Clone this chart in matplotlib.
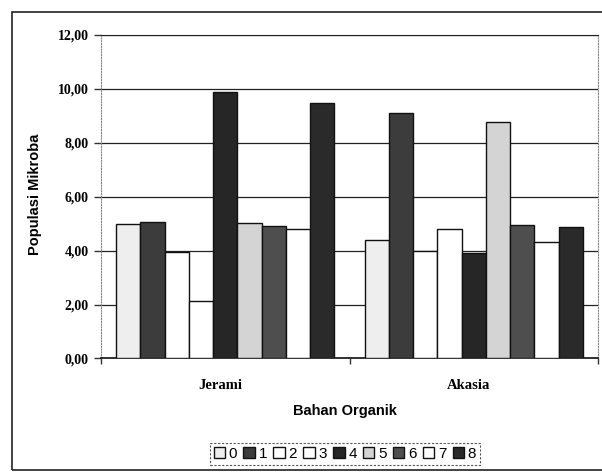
import matplotlib.pyplot as plt
import matplotlib.patches as mpatches
import numpy as np

# Populasi mikroba per bahan organik, seri 0-8
kategori = ["Jerami", "Akasia"]
seri = ["0", "1", "2", "3", "4", "5", "6", "7", "8"]
jerami = [4.98, 5.05, 3.94, 2.13, 9.89, 5.02, 4.91, 4.80, 9.48]
akasia = [4.40, 9.10, 3.99, 4.80, 3.92, 8.78, 4.94, 4.31, 4.89]
yticks = [0, 2, 4, 6, 8, 10, 12]

warna = ["#eeeeee", "#3c3c3c", "#ffffff", "#ffffff", "#262626",
         "#d4d4d4", "#4e4e4e", "#ffffff", "#2a2a2a"]

fig = plt.figure(figsize=(6.02, 4.75), dpi=100)
ax = fig.add_axes([0.1678, 0.2453, 0.8256, 0.681])

x = np.arange(len(kategori))
lebar = 0.0975
for i, s in enumerate(seri):
    nilai = [jerami[i], akasia[i]]
    ax.bar(x + (i - 4) * lebar, nilai, width=lebar, color=warna[i],
           edgecolor="#111111", linewidth=1.0, label=s, zorder=3)

ax.set_xlim(-0.5, 1.5)
ax.set_ylim(0, 12)
ax.set_yticks(yticks)
ax.set_yticklabels([f"{v:.2f}".replace(".", ",") for v in yticks],
                   fontfamily="Liberation Serif", fontweight="bold", fontsize=10)
ax.yaxis.grid(True, color="#222222", linewidth=0.9, zorder=0)
ax.tick_params(axis="y", length=5, width=1, color="#333333", pad=4)

# tanda kategori di antara kelompok
ax.set_xticks([-0.5, 0.5, 1.5])
ax.set_xticklabels(["", "", ""])
ax.tick_params(axis="x", length=4, width=1, color="#333333")
for xi, k in zip(x, kategori):
    ax.text(xi - 0.02, -0.085, k, transform=ax.get_xaxis_transform(),
            ha="center", va="center", fontfamily="Liberation Serif",
            fontweight="bold", fontsize=10.5)

for side in ["left", "right"]:
    ax.spines[side].set_color("#888888")
    ax.spines[side].set_linestyle((0, (1, 1.5)))
ax.spines["top"].set_color("#222222")
ax.spines["bottom"].set_color("#111111")
ax.spines["bottom"].set_linewidth(1.2)

fig.text(0.058, 0.59, "Populasi Mikroba", rotation=90, ha="center",
         va="center", fontfamily="Liberation Sans", fontweight="bold",
         fontsize=10.5)
fig.text(0.573, 0.135, "Bahan Organik", ha="center", va="center",
         fontfamily="Liberation Sans", fontweight="bold", fontsize=10.5)

leg = fig.legend(loc="center", bbox_to_anchor=(0.573, 0.044), ncol=9,
                 prop={"family": "Liberation Sans", "size": 11},
                 handlelength=0.75, handleheight=0.75, handletextpad=0.25,
                 columnspacing=0.4, borderpad=0.25, fancybox=False,
                 framealpha=1)
leg.get_frame().set_edgecolor("#555555")
leg.get_frame().set_linestyle((0, (2, 1.5)))
leg.get_frame().set_linewidth(0.8)

# bingkai area grafik
fig.patches.append(mpatches.Rectangle((0.02, 0.01), 1.0, 0.965,
                                      transform=fig.transFigure, fill=False,
                                      edgecolor="#222222", linewidth=1.2))

fig.savefig("out.png", dpi=100)
